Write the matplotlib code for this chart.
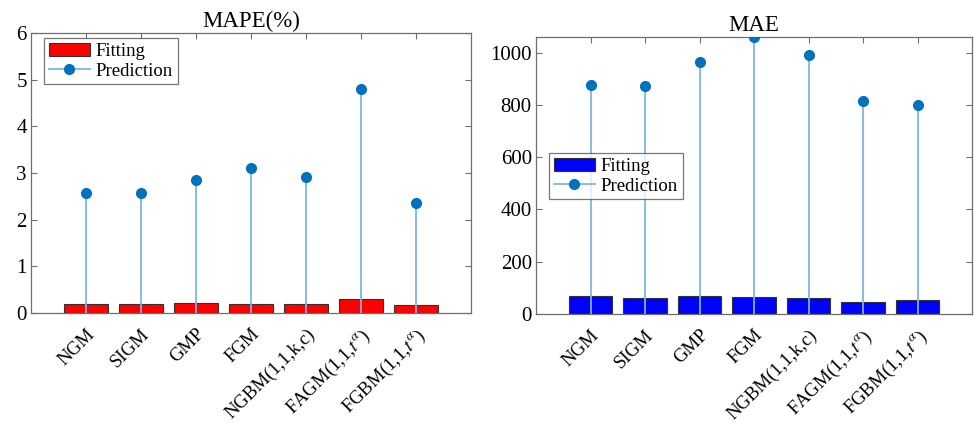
import matplotlib
matplotlib.use("Agg")
import matplotlib.pyplot as plt
import numpy as np

plt.rcParams['font.family'] = ['Liberation Serif', 'DejaVu Serif']
plt.rcParams['mathtext.fontset'] = 'stix'

models = ["NGM", "SIGM", "GMP", "FGM", "NGBM(1,1,k,c)",
          r"FAGM(1,1,$t^{\alpha}$)", r"FGBM(1,1,$t^{\alpha}$)"]

mape_fit = [0.20, 0.19, 0.21, 0.20, 0.19, 0.31, 0.17]
mape_pred = [2.58, 2.57, 2.84, 3.11, 2.92, 4.79, 2.36]

mae_fit = [67, 60, 69, 65, 60, 47, 55]
mae_pred = [876, 874, 964, 1059, 991, 814, 799]

stem_color = "#7cb6e2"
marker_color = "#0072BD"
axis_color = "#6e6e6e"

fig = plt.figure(figsize=(9.75, 4.29), dpi=100)
W, H = 975, 429
ax1 = fig.add_axes([31 / W, 1 - 313 / H, 440 / W, 280 / H])
ax2 = fig.add_axes([536 / W, 1 - 314 / H, 436 / W, 277 / H])


def panel(ax, fit, pred, bar_color, title, ylim, yticks, legend_anchor):
    x = np.arange(1, len(models) + 1)
    bars = ax.bar(x, fit, width=0.8, color=bar_color, edgecolor="#333333",
                  linewidth=0.8, label="Fitting", zorder=2)
    ax.vlines(x, 0, pred, color=stem_color, linewidth=1.3, zorder=3)
    ax.plot(x, pred, linestyle="none", marker="o", markersize=7,
            color=marker_color, zorder=4)
    stem_handle = plt.Line2D([], [], color=stem_color, linewidth=1.3,
                             marker="o", markersize=7,
                             markerfacecolor=marker_color,
                             markeredgecolor=marker_color,
                             markevery=[1])
    ax.set_xlim(0, 8)
    ax.set_ylim(*ylim)
    ax.set_yticks(yticks)
    ax.set_xticks(x)
    ax.set_xticklabels(models, rotation=45, ha="right",
                       rotation_mode="anchor", fontsize=13.5)
    ax.tick_params(axis="y", labelsize=15, direction="in", right=True,
                   length=4, color=axis_color, pad=3)
    ax.tick_params(axis="x", direction="in", top=True, length=4,
                   color=axis_color, pad=9)
    for s in ax.spines.values():
        s.set_color(axis_color)
        s.set_linewidth(0.9)
    ax.set_title(title, fontsize=16.5, pad=4)
    leg = ax.legend([bars, stem_handle], ["Fitting", "Prediction"],
                    loc="upper left", bbox_to_anchor=legend_anchor,
                    fontsize=13.5, frameon=True, fancybox=False,
                    borderpad=0.25, handlelength=2.2, handletextpad=0.3,
                    labelspacing=0.15, borderaxespad=0)
    leg.get_frame().set_edgecolor("#555555")
    leg.get_frame().set_linewidth(0.9)


panel(ax1, mape_fit, mape_pred, "#ff0000", "MAPE(%)", (0, 6),
      np.arange(0, 7, 1), (13 / 440, 1 - 5 / 280))
panel(ax2, mae_fit, mae_pred, "#0000ff", "MAE", (0, 1060),
      np.arange(0, 1001, 200), (13 / 436, 1 - 116 / 277))

fig.savefig("out.png", dpi=100)
